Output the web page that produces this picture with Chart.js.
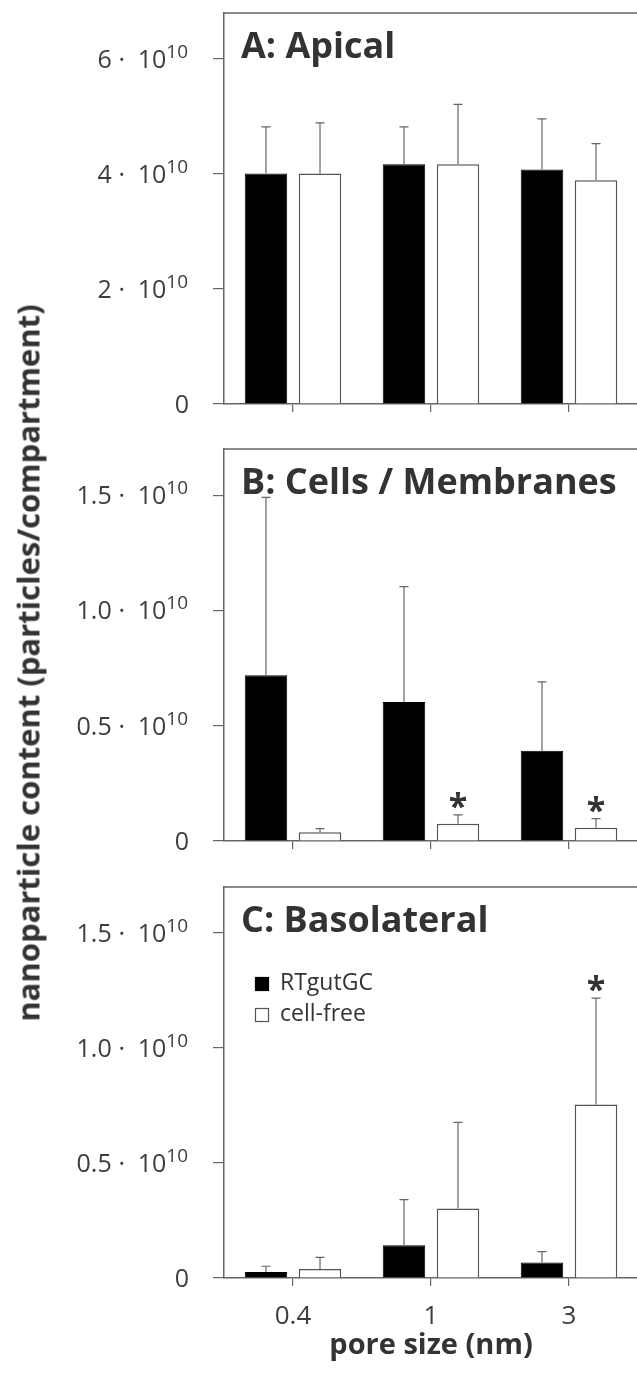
<!DOCTYPE html>
<html><head><meta charset="utf-8">
<script src="https://cdn.jsdelivr.net/npm/chart.js@4.4.1/dist/chart.umd.min.js"></script>
<style>
html,body{margin:0;padding:0;background:#fff;width:637px;height:1378px;overflow:hidden;}
#wrap{position:relative;width:637px;height:1378px;overflow:hidden;background:#fff;}
canvas{position:absolute;left:0;}
#ytitle{position:absolute;left:28px;top:663px;transform:translate(-50%,-50%) rotate(-90deg);white-space:nowrap;font-family:'Open Sans';font-weight:bold;font-size:31px;line-height:1;color:#333;z-index:2;}
</style></head><body>
<div id="wrap">
<canvas id="cA" width="642" height="424" style="top:0px"></canvas>
<canvas id="cB" width="642" height="425" style="top:436px"></canvas>
<canvas id="cC" width="642" height="504" style="top:874px"></canvas>
<div id="ytitle">nanoparticle content (particles/compartment)</div>
</div>
<script>
// ---- data ----
const poreSizes = ['0.4', '1', '3'];
const seriesNames = ['RTgutGC', 'cell-free'];
const panelTitles = ['A: Apical', 'B: Cells / Membranes', 'C: Basolateral'];
const xAxisTitle = 'pore size (nm)';

const apicalCells     = [4.01e10, 4.17e10, 4.08e10];
const apicalCellsSD   = [0.81e10, 0.65e10, 0.88e10];
const apicalFree      = [4.01e10, 4.17e10, 3.89e10];
const apicalFreeSD    = [0.88e10, 1.04e10, 0.64e10];

const membraneCells   = [0.719e10, 0.603e10, 0.391e10];
const membraneCellsSD = [0.771e10, 0.500e10, 0.299e10];
const membraneFree    = [0.038e10, 0.075e10, 0.058e10];
const membraneFreeSD  = [0.016e10, 0.038e10, 0.039e10];
const membraneFreeSig = [false, true, true];

const basoCells       = [0.026e10, 0.142e10, 0.067e10];
const basoCellsSD     = [0.025e10, 0.199e10, 0.048e10];
const basoFree        = [0.039e10, 0.302e10, 0.754e10];
const basoFreeSD      = [0.051e10, 0.375e10, 0.463e10];
const basoFreeSig     = [false, false, true];

const tickValuesA = [0, 2e10, 4e10, 6e10];
const tickLabelsA = ['0', '2', '4', '6'];
const tickValuesBC = [0, 0.5e10, 1.0e10, 1.5e10];
const tickLabelsBC = ['0', '0.5', '1.0', '1.5'];
const tickExponentBase = '10';
const tickExponent = '10';
const yMaxA = 6.8e10;
const yMaxBC = 1.7e10;

// ---- drawing helpers ----
Chart.defaults.font.family = "'Open Sans'";

const panelPlugin = {
  id: 'panel',
  afterDatasetsDraw(chart, args, opts) {
    const ctx = chart.ctx, ca = chart.chartArea, ys = chart.scales.y;
    ctx.save();
    // top / right frame
    ctx.strokeStyle = '#666'; ctx.lineWidth = 1.5;
    ctx.beginPath();
    ctx.moveTo(ca.left, ca.top); ctx.lineTo(ca.right, ca.top); ctx.lineTo(ca.right, ca.bottom);
    ctx.stroke();
    // error bars and significance marks
    chart.data.datasets.forEach((ds, di) => {
      const meta = chart.getDatasetMeta(di);
      const sd = opts.sd[di];
      const sig = opts.sig ? opts.sig[di] : null;
      meta.data.forEach((bar, i) => {
        const topY = ys.getPixelForValue(ds.data[i] + sd[i]);
        ctx.strokeStyle = '#666'; ctx.lineWidth = 1.2;
        ctx.beginPath();
        ctx.moveTo(bar.x, bar.y); ctx.lineTo(bar.x, topY);
        ctx.moveTo(bar.x - 4.5, topY); ctx.lineTo(bar.x + 4.5, topY);
        ctx.stroke();
        if (sig && sig[i]) {
          ctx.fillStyle = '#333';
          ctx.font = "bold 34px 'Open Sans'";
          ctx.textAlign = 'center'; ctx.textBaseline = 'alphabetic';
          ctx.fillText('*', bar.x, topY - 16 + 19);
        }
      });
    });
    // panel title
    ctx.fillStyle = '#333';
    ctx.font = "bold 36px 'Open Sans'";
    ctx.textAlign = 'left'; ctx.textBaseline = 'alphabetic';
    ctx.fillText(opts.title, ca.left + 17, ca.top + 44.5);
    // legend
    if (opts.legend) {
      chart.data.datasets.forEach((ds, k) => {
        const sy = ca.top + 90 + k * 31;
        ctx.fillStyle = ds.backgroundColor;
        ctx.fillRect(ca.left + 31, sy, 14, 14);
        ctx.strokeStyle = ds.borderColor; ctx.lineWidth = 1.2;
        ctx.strokeRect(ca.left + 31.5, sy + 0.5, 13, 13);
        ctx.fillStyle = '#333';
        ctx.font = "23px 'Open Sans'";
        ctx.textAlign = 'left';
        ctx.fillText(ds.label, ca.left + 56, sy + 13);
      });
    }
    // y tick labels with superscript exponent
    const R = ca.left - 36;
    ctx.fillStyle = '#3d3d3d';
    ys.ticks.forEach((t, k) => {
      const y = ys.getPixelForValue(t.value);
      const lab = opts.tickLabels[k];
      ctx.textBaseline = 'alphabetic';
      if (t.value === 0) {
        ctx.font = "25px 'Open Sans'"; ctx.textAlign = 'right';
        ctx.fillText(lab, R + 1, y + 9);
        return;
      }
      ctx.font = "19px 'Open Sans'"; ctx.textAlign = 'right';
      ctx.fillText(tickExponent, R, y - 1);
      const ew = ctx.measureText(tickExponent).width;
      ctx.font = "25px 'Open Sans'";
      ctx.fillText(tickExponentBase, R - ew, y + 9);
      const tw = ctx.measureText(tickExponentBase).width;
      const dotX = R - ew - tw - 16;
      ctx.textAlign = 'center';
      ctx.fillText('\u00B7', dotX, y + 9);
      ctx.textAlign = 'right';
      ctx.fillText(lab, dotX - 10, y + 9);
    });
    ctx.restore();
  }
};

function makePanel(canvasId, blackVals, whiteVals, blackSD, whiteSD, whiteSig,
                   yMax, tickVals, tickLabs, title, showX, legend, xHeight) {
  return new Chart(document.getElementById(canvasId), {
    type: 'bar',
    data: {
      labels: poreSizes,
      datasets: [
        { label: seriesNames[0], data: blackVals, backgroundColor: '#000', borderColor: '#000', borderWidth: 1 },
        { label: seriesNames[1], data: whiteVals, backgroundColor: '#fff', borderColor: '#555', borderWidth: 1.5 }
      ]
    },
    options: {
      responsive: false,
      animation: false,
      events: [],
      categoryPercentage: 0.783,
      barPercentage: 0.787,
      layout: { padding: { top: 13, right: 4, left: 0, bottom: 0 } },
      plugins: {
        legend: { display: false },
        tooltip: { enabled: false },
        panel: {
          title: title,
          sd: [blackSD, whiteSD],
          sig: [null, whiteSig],
          legend: legend,
          tickLabels: tickLabs
        }
      },
      scales: {
        x: {
          offset: true,
          grid: { offset: false, drawOnChartArea: false, drawTicks: true, tickLength: 8, color: '#666', lineWidth: 1.2 },
          border: { display: true, color: '#666', width: 1.5 },
          ticks: { display: showX, font: { size: 26 }, color: '#3d3d3d', padding: 15, maxRotation: 0, minRotation: 0 },
          title: { display: showX, text: xAxisTitle, font: { size: 29, weight: 'bold' }, color: '#333', padding: { top: 0, bottom: 15 } },
          afterFit(s) { s.height = xHeight; }
        },
        y: {
          min: 0, max: yMax,
          afterBuildTicks(s) { s.ticks = tickVals.map(v => ({ value: v })); },
          grid: { drawOnChartArea: false, drawTicks: true, tickLength: 11, color: '#666', lineWidth: 1.2 },
          border: { display: true, color: '#666', width: 1.5 },
          ticks: { display: false },
          afterFit(s) { s.width = 224; }
        }
      }
    },
    plugins: [panelPlugin]
  });
}

makePanel('cA', apicalCells, apicalFree, apicalCellsSD, apicalFreeSD, null,
          yMaxA, tickValuesA, tickLabelsA, panelTitles[0], false, false, 20);
makePanel('cB', membraneCells, membraneFree, membraneCellsSD, membraneFreeSD, membraneFreeSig,
          yMaxBC, tickValuesBC, tickLabelsBC, panelTitles[1], false, false, 20);
makePanel('cC', basoCells, basoFree, basoCellsSD, basoFreeSD, basoFreeSig,
          yMaxBC, tickValuesBC, tickLabelsBC, panelTitles[2], true, true, 100);
</script>
</body></html>
